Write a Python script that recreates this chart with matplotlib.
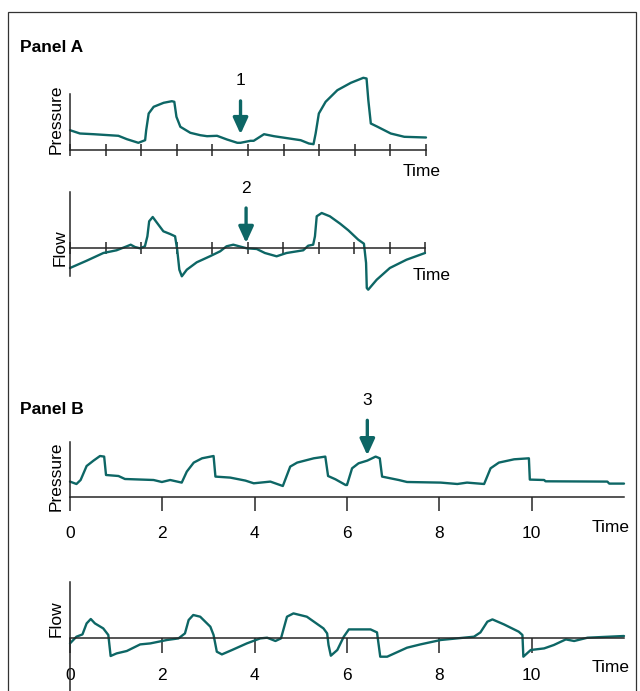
import matplotlib
matplotlib.use("Agg")
import matplotlib.pyplot as plt
from matplotlib.patches import Rectangle

plt.rcParams["font.family"] = ["Liberation Sans", "DejaVu Sans"]
plt.rcParams["lines.solid_joinstyle"] = "round"
plt.rcParams["lines.solid_capstyle"] = "round"

TEAL = "#0d6665"
AXC = "#262626"
W, H = 640, 691

# Panel A - pressure (time units, arbitrary pressure units)
pa_t = [0, 0.28, 0.66, 1.36, 1.6, 1.92, 2.11, 2.14, 2.21, 2.35, 2.63, 2.86, 2.93, 2.99,
        3.1, 3.38, 3.66, 3.85, 4.13, 4.41, 4.7, 4.79, 5.07, 5.16, 5.45, 5.73, 6.48,
        6.71, 6.84, 6.9, 6.99, 7.18, 7.51, 7.89, 8.24, 8.33, 8.38, 8.45, 8.64, 9.01,
        9.39, 10.0]
pa_p = [19.3, 16, 15.3, 13.7, 10.3, 6.7, 9.3, 19.3, 36, 42.7, 46.7, 48.3, 47.7, 32.7,
        22.7, 16.7, 14.3, 13.3, 13.7, 10, 6.7, 6.7, 8.7, 8.7, 15.3, 13.3, 9.3,
        6, 5.3, 16, 36, 47.7, 59.3, 66.7, 71.7, 71, 49.3, 26, 22.7, 16,
        12.7, 12]

# Panel A - flow
fa_t = [0, 0.47, 0.94, 1.31, 1.6, 1.71, 1.83, 1.97, 2.11, 2.18, 2.23, 2.33, 2.44, 2.63,
        2.82, 2.96, 3.02, 3.08, 3.15, 3.29, 3.57, 3.94, 4.23, 4.41, 4.6, 4.84, 4.98,
        5.26, 5.49, 5.82, 6.1, 6.57, 6.71, 6.85, 6.9, 6.95, 7.09, 7.32, 7.61, 7.84,
        8.12, 8.28, 8.34, 8.36, 8.4, 8.64, 9.01, 9.48, 10.0]
fa_f = [-20, -12.7, -5, -2.3, 1.7, 3.3, 1, -0.3, 1.7, 11.7, 26.7, 31, 25.7, 16.7,
        14, 11.7, -1.7, -21.7, -28.3, -21.7, -14.3, -8.3, -3.3, 1.7, 3.3, 1, -0.3,
        -1, -5, -8.3, -5, -2.3, 2.3, 3.3, 11.7, 31.7, 35, 31.7, 24.3, 17.7,
        8.3, 4.3, -15, -40, -41.7, -31.7, -20, -11.7, -5]

# Panel B - pressure
pb_t = [0, 0.14, 0.23, 0.36, 0.51, 0.65, 0.74, 0.78, 1.05, 1.19, 1.81, 1.99, 2.17, 2.42,
        2.53, 2.68, 2.86, 3.11, 3.15, 3.47, 3.8, 3.98, 4.34, 4.61, 4.77, 4.92, 5.28,
        5.53, 5.59, 5.75, 5.97, 6.0, 6.11, 6.25, 6.44, 6.62, 6.71, 6.76, 7.12, 7.3,
        8.03, 8.39, 8.6, 8.97, 9.11, 9.29, 9.62, 9.94, 9.96, 10.27, 10.3, 11.64,
        11.68, 12.0]
pb_p = [15.7, 13.3, 17.3, 31.3, 36.7, 41.3, 40.7, 22.3, 21.3, 18.3, 17.3, 15.3, 17.3, 14.7,
        25.7, 34.7, 39, 41.3, 20.7, 19.7, 16.7, 14, 15.7, 11.3, 30.7, 34.7, 39,
        40.7, 21.3, 18, 12.3, 12.3, 29, 34, 36.7, 40.7, 39, 20.7, 17.3, 15.3,
        14.7, 13.3, 14.7, 13.3, 29, 34.7, 38, 39, 17.7, 17.3, 16, 15.7,
        13.7, 13.7]

# Panel B - flow
fb_t = [0, 0.14, 0.27, 0.36, 0.45, 0.54, 0.72, 0.83, 0.88, 1.01, 1.23, 1.52, 1.74, 2.1,
        2.35, 2.49, 2.57, 2.67, 2.82, 3.04, 3.11, 3.18, 3.29, 3.51, 3.83, 4.12, 4.27,
        4.45, 4.57, 4.7, 4.84, 5.13, 5.49, 5.57, 5.6, 5.65, 5.79, 5.93, 6.04, 6.51,
        6.65, 6.72, 6.87, 7.3, 7.59, 8.03, 8.75, 8.89, 9.04, 9.15, 9.4, 9.72, 9.8,
        9.82, 9.98, 10.27, 10.48, 10.74, 10.92, 11.21, 12.0]
fb_f = [-5.7, 1, 3.3, 14.3, 18.7, 14.3, 9.3, 2.7, -18.3, -15.7, -13.3, -6.7, -5.7, -2.3,
        -0.7, 4.3, 17.7, 22.7, 21, 11, 2.7, -14, -16.7, -12.3, -5.7, -0.7, 0,
        -3.3, -0.7, 21, 24.3, 21, 9.3, 4.3, -7.3, -18, -12.3, 1, 8.3, 8.3,
        5.3, -19, -19, -10, -6.7, -2.3, 1, 5.3, 16, 18.3, 13.3, 6, 2.7,
        -19, -12.3, -10.7, -7.3, -1.7, -3.3, 0, 1.7]


def px_axes(fig, left, right, top, bottom):
    return fig.add_axes([left / W, 1 - bottom / H, (right - left) / W, (bottom - top) / H])


def ftext(fig, x, y, s, **kw):
    fig.text(x / W, 1 - y / H, s, **kw)


def style(ax, zero_axis):
    for side in ["top", "right"]:
        ax.spines[side].set_visible(False)
    for side in ["left", "bottom"]:
        ax.spines[side].set_color(AXC)
        ax.spines[side].set_linewidth(1.1)
    if zero_axis:
        ax.spines["bottom"].set_position(("data", 0))
    ax.set_yticks([])
    ax.patch.set_alpha(0)


def arrow(ax, x, y_tail, y_tip, label, y_label):
    ax.annotate("", xy=(x, y_tip), xytext=(x, y_tail),
                arrowprops=dict(arrowstyle="-|>,head_length=0.7,head_width=0.32",
                                color=TEAL, lw=2.4, mutation_scale=14,
                                shrinkA=0, shrinkB=0),
                annotation_clip=False)
    ax.text(x, y_label, label, ha="center", va="center", fontsize=12.5, clip_on=False)


fig = plt.figure(figsize=(6.4, 6.91), dpi=100)
fig.patches.append(Rectangle((8 / W, -0.05), 628 / W, 1 - 12 / H + 0.05,
                             transform=fig.transFigure, fill=False,
                             edgecolor="#333333", lw=0.9))

# Panel A pressure
ax1 = px_axes(fig, 70, 426, 94, 149.5)
ax1.plot(pa_t, pa_p, color=TEAL, lw=1.7, clip_on=False)
ax1.set_xlim(0, 10)
ax1.set_ylim(0, 55.5)
style(ax1, False)
ax1.set_xticks(range(11))
ax1.tick_params(axis="x", direction="inout", length=9, width=1.1, color=AXC, labelbottom=False)
arrow(ax1, 4.79, 48.6, 15.3, "1", 69.3)

# Panel A flow
ax2 = px_axes(fig, 70, 425, 192, 276)
ax2.plot(fa_t, fa_f, color=TEAL, lw=1.7, clip_on=False)
ax2.set_xlim(0, 10)
ax2.set_ylim(-28, 56)
style(ax2, True)
ax2.set_xticks(range(11))
ax2.tick_params(axis="x", direction="inout", length=9, width=1.1, color=AXC, labelbottom=False)
arrow(ax2, 4.96, 40, 5, "2", 60)

# Panel B pressure
ax3 = px_axes(fig, 70, 624, 441.7, 497.3)
ax3.plot(pb_t, pb_p, color=TEAL, lw=1.7, clip_on=False)
ax3.set_xlim(0, 12)
ax3.set_ylim(0, 55.6)
style(ax3, False)
ax3.set_xticks(range(0, 11, 2))
ax3.tick_params(axis="x", direction="out", length=10, width=1.1, color=AXC,
                labelsize=12.5, pad=11)
arrow(ax3, 6.44, 77, 42, "3", 97)

# Panel B flow
ax4 = px_axes(fig, 70, 624, 581.7, 691)
ax4.plot(fb_t, fb_f, color=TEAL, lw=1.7, clip_on=False)
ax4.set_xlim(0, 12)
ax4.set_ylim(-53.3, 56)
style(ax4, True)
ax4.set_xticks(range(0, 11, 2))
ax4.tick_params(axis="x", direction="out", length=10.5, width=1.1, color=AXC,
                labelsize=12.5, pad=11)

# titles and labels
ftext(fig, 20, 47, "Panel A", fontsize=12.5, fontweight="bold", va="center")
ftext(fig, 20, 410, "Panel B", fontsize=12.5, fontweight="bold", va="center")
ftext(fig, 56, 119, "Pressure", fontsize=12.5, rotation=90, ha="center", va="center")
ftext(fig, 60, 248, "Flow", fontsize=12.5, rotation=90, ha="center", va="center")
ftext(fig, 56, 476, "Pressure", fontsize=12.5, rotation=90, ha="center", va="center")
ftext(fig, 56, 619, "Flow", fontsize=12.5, rotation=90, ha="center", va="center")
ftext(fig, 403, 172, "Time", fontsize=12.5, va="center")
ftext(fig, 413, 275, "Time", fontsize=12.5, va="center")
ftext(fig, 592, 527, "Time", fontsize=12.5, va="center")
ftext(fig, 592, 668, "Time", fontsize=12.5, va="center")

fig.savefig("out.png", dpi=100)
